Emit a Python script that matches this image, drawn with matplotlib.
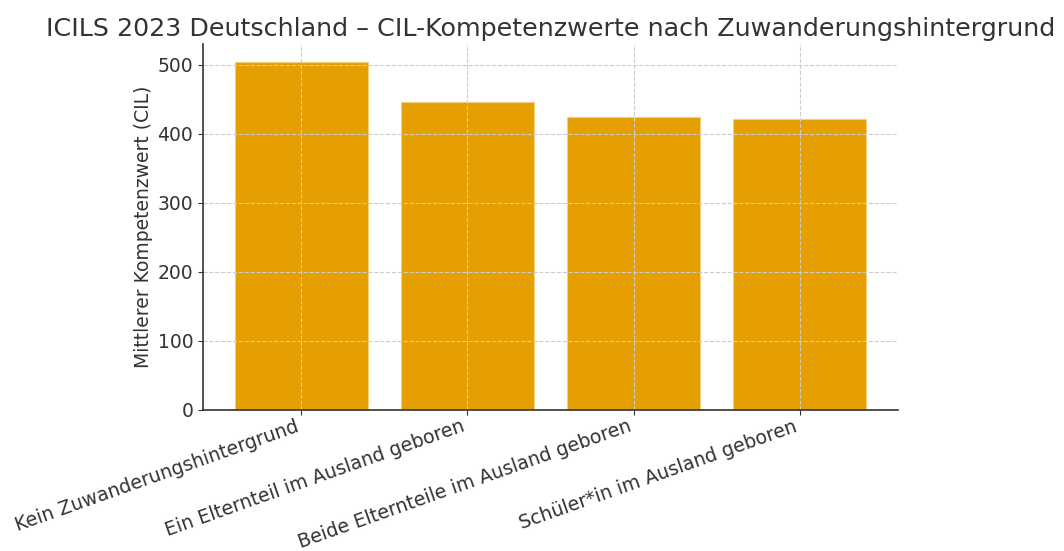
import matplotlib.pyplot as plt
import numpy as np

# ICILS 2023, Deutschland: mittlere CIL-Werte nach Zuwanderungshintergrund
categories = [
    "Kein Zuwanderungshintergrund",
    "Ein Elternteil im Ausland geboren",
    "Beide Elternteile im Ausland geboren",
    "Schüler*in im Ausland geboren",
]
scores = [505, 447, 425, 421]

text_col = "#333333"
plt.rcParams["font.family"] = "DejaVu Sans"
plt.rcParams["text.color"] = text_col
plt.rcParams["axes.labelcolor"] = text_col
plt.rcParams["xtick.color"] = text_col
plt.rcParams["ytick.color"] = text_col

fig = plt.figure(figsize=(10.64, 5.51), dpi=100)
ax = fig.add_axes([0.1908, 0.2559, 0.8440 - 0.1908, 0.9200 - 0.2559])

x = np.arange(len(categories))
ax.bar(x, scores, width=0.8, color="#E69F00", edgecolor="#f3cf80", linewidth=0.8)

ax.set_xticks(x)
ax.set_xticklabels(categories, rotation=19.5, ha="right", fontsize=13.6)
ax.tick_params(axis="x", pad=1.5)
ax.tick_params(axis="y", labelsize=13.5)
ax.set_ylabel("Mittlerer Kompetenzwert (CIL)", fontsize=13.5, labelpad=3)
ax.set_title("ICILS 2023 Deutschland – CIL-Kompetenzwerte nach Zuwanderungshintergrund",
             fontsize=18.3, color=text_col, pad=6)

ax.grid(True, linestyle="--", color="#cccccc", linewidth=0.8)
for side in ["top", "right"]:
    ax.spines[side].set_visible(False)
for side in ["left", "bottom"]:
    ax.spines[side].set_color(text_col)
    ax.spines[side].set_linewidth(1.2)

fig.savefig("out.png", dpi=100)
